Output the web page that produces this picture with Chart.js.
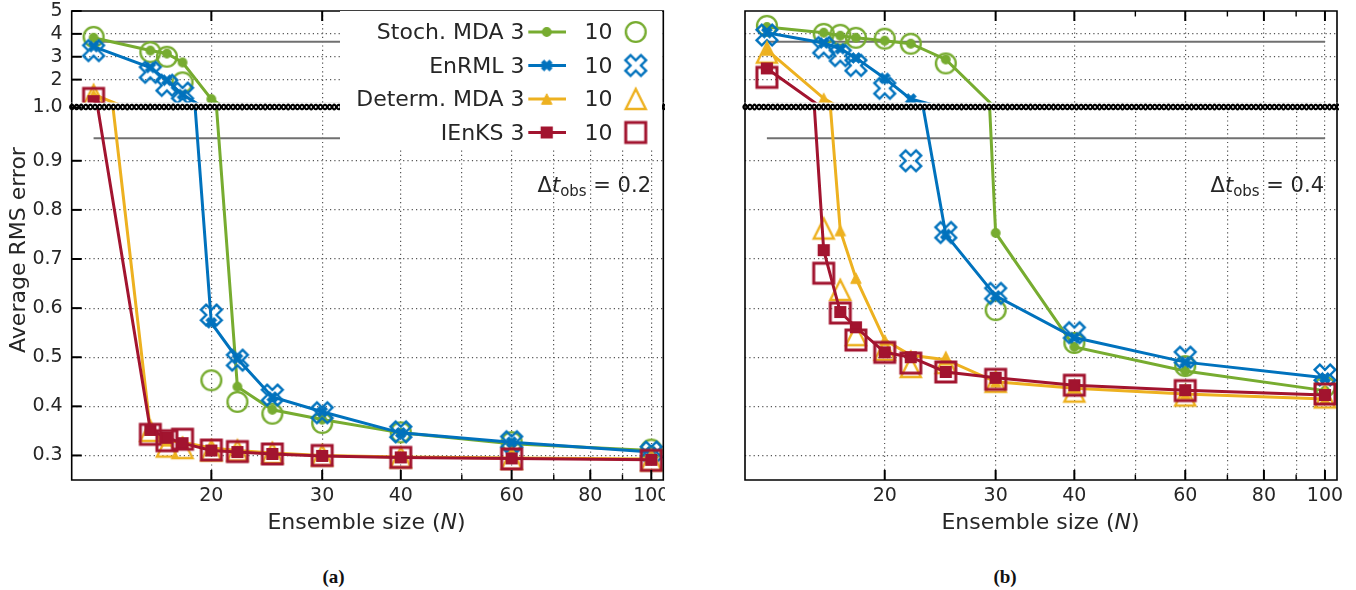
<!DOCTYPE html>
<html>
<head>
<meta charset="utf-8">
<script src="https://cdn.jsdelivr.net/npm/chart.js@4.4.1/dist/chart.umd.min.js"></script>
<style>
  html, body { margin:0; padding:0; background:#fff; }
  body { width:1356px; height:590px; position:relative; overflow:hidden; font-family:'DejaVu Sans', sans-serif; color:#262626; }
  .box { position:absolute; }
  .box canvas { display:block; }
  .txt { position:absolute; white-space:nowrap; }
  .txt sub { font-size:15px; vertical-align:-4px; line-height:0; }
</style>
</head>
<body>
<div class="box" style="left:0;top:0;width:700px;height:120px;z-index:1"><canvas id="cUa" width="700" height="120"></canvas></div>
<div class="box" style="left:0;top:80px;width:665px;height:460px;overflow:hidden;z-index:2"><canvas id="cLa" width="700" height="460"></canvas></div>
<div class="box" style="left:720px;top:0;width:640px;height:120px;z-index:1"><canvas id="cUb" width="640" height="120"></canvas></div>
<div class="box" style="left:720px;top:80px;width:640px;height:460px;z-index:2"><canvas id="cLb" width="640" height="460"></canvas></div>

<div id="legend" class="box" style="left:340px;top:11px;width:322px;height:139px;background:#fff;z-index:5">
  <canvas id="cLeg" width="322" height="139" style="position:absolute;left:0;top:0"></canvas>
</div>

<div class="txt" style="left:-107px;top:237px;width:250px;height:26px;line-height:26px;font-size:22px;text-align:center;transform:rotate(-90deg);z-index:6">Average RMS error</div>
<div class="txt" style="left:166.5px;top:509.4px;width:400px;line-height:26px;font-size:22px;text-align:center;z-index:6">Ensemble size (<i>N</i>)</div>
<div class="txt" style="left:840.5px;top:509.4px;width:400px;line-height:26px;font-size:22px;text-align:center;z-index:6">Ensemble size (<i>N</i>)</div>
<div class="txt" style="right:705px;top:172.8px;line-height:25px;font-size:21px;z-index:6">Δ<i>t</i><sub>obs</sub> = 0.2</div>
<div class="txt" style="right:32px;top:172.8px;line-height:25px;font-size:21px;z-index:6">Δ<i>t</i><sub>obs</sub> = 0.4</div>
<div class="txt" style="left:283.5px;top:565px;width:100px;line-height:23px;font-size:19px;font-weight:bold;font-family:'Liberation Serif',serif;text-align:center;color:#111">(a)</div>
<div class="txt" style="left:955px;top:565px;width:100px;line-height:23px;font-size:19px;font-weight:bold;font-family:'Liberation Serif',serif;text-align:center;color:#111">(b)</div>

<script>
// ---------------- data ----------------
const N = [13, 16, 17, 18, 20, 22, 25, 30, 40, 60, 100];
const X_TICKS = [20, 30, 40, 50, 60, 70, 80, 90, 100];
const X_LABELS = [20, 30, 40, 60, 80, 100];
const Y_UPPER_TICKS = [2, 3, 4, 5];
const Y_LOWER_TICKS = [0.3, 0.4, 0.5, 0.6, 0.7, 0.8, 0.9, 1.0];
const REF_N = [13, 100];
const REF_UPPER = [3.66, 3.66];
const REF_LOWER = [0.946, 0.946];

// panel (a): dt_obs = 0.2
const stochA_3  = [3.83, 3.27, 3.14, 2.75, 1.15, 0.440, 0.393, 0.373, 0.346, 0.324, 0.310];
const stochA_10 = [3.87, 3.20, 3.00, 1.88, 0.453, 0.409, 0.385, 0.366, 0.347, 0.327, 0.312];
const enrmlA_3  = [3.44, 2.53, 1.97, 1.35, 0.570, 0.497, 0.419, 0.389, 0.346, 0.327, 0.307];
const enrmlA_10 = [3.27, 2.32, 1.75, 1.41, 0.586, 0.494, 0.423, 0.387, 0.348, 0.328, 0.307];
const detA_3    = [1.35, 0.352, 0.330, 0.327, 0.315, 0.310, 0.305, 0.300, 0.297, 0.295, 0.293];
const detA_10   = [1.32, 0.350, 0.318, 0.315, 0.310, 0.310, 0.305, 0.300, 0.296, 0.293, 0.290];
const ienksA_3  = [1.06, 0.352, 0.336, 0.325, 0.310, 0.307, 0.303, 0.299, 0.296, 0.294, 0.291];
const ienksA_10 = [1.18, 0.343, 0.330, 0.333, 0.311, 0.308, 0.303, 0.300, 0.296, 0.293, 0.290];

// panel (b): dt_obs = 0.4
const stochB_3  = [4.30, 4.05, 3.92, 3.83, 3.70, 3.57, 2.88, 0.753, 0.521, 0.472, 0.432];
const stochB_10 = [4.35, 4.00, 3.96, 3.83, 3.79, 3.57, 2.71, 0.596, 0.529, 0.482, 0.440];
const enrmlB_3  = [4.05, 3.60, 3.35, 2.95, 2.06, 1.15, 0.750, 0.625, 0.540, 0.490, 0.458];
const enrmlB_10 = [3.95, 3.40, 3.05, 2.62, 1.62, 0.900, 0.754, 0.630, 0.550, 0.500, 0.464];
const detB_3    = [3.30, 1.18, 0.758, 0.661, 0.535, 0.504, 0.495, 0.450, 0.437, 0.425, 0.415];
const detB_10   = [3.18, 0.762, 0.637, 0.545, 0.515, 0.480, 0.488, 0.450, 0.430, 0.422, 0.418];
const ienksB_3  = [2.49, 0.718, 0.592, 0.561, 0.510, 0.500, 0.470, 0.458, 0.443, 0.433, 0.423];
const ienksB_10 = [2.10, 0.671, 0.590, 0.535, 0.510, 0.488, 0.470, 0.455, 0.443, 0.432, 0.425];

const LEGEND_LABELS = ['Stoch. MDA 3', 'EnRML 3', 'Determ. MDA 3', 'IEnKS 3'];
const LEGEND_LABELS_2 = ['10', '10', '10', '10'];

// ---------------- styles ----------------
const FONT = "'DejaVu Sans', sans-serif";
const TXT = '#262626';
const GRID_COL = '#555555';
const COL = { green:'#77AC30', blue:'#0072BD', yellow:'#EDB120', red:'#A2142F', gray:'#707070' };
const X_MIN = 12, X_MAX = 104.5;
const UPPER_MIN = 1, UPPER_MAX = 5;
const LOWER_MIN = 0.25, LOWER_MAX = 1.0085;

function cnv(size, fn) {
  const c = document.createElement('canvas');
  c.width = size; c.height = size;
  const g = c.getContext('2d');
  g.translate(size / 2, size / 2);
  fn(g);
  return c;
}
function xPath(g, s) {
  const P = [[-1,-3],[1,-3],[1,-1],[3,-1],[3,1],[1,1],[1,3],[-1,3],[-1,1],[-3,1],[-3,-1],[-1,-1]];
  const a = Math.PI / 4, c = Math.cos(a), sn = Math.sin(a);
  g.beginPath();
  P.forEach(([px, py], i) => {
    const x = (px * c - py * sn) * s / 6, y = (px * sn + py * c) * s / 6;
    if (i) g.lineTo(x, y); else g.moveTo(x, y);
  });
  g.closePath();
}
function triPath(g, s) {
  g.beginPath(); g.moveTo(0, -s / 2); g.lineTo(-s / 2, s / 2); g.lineTo(s / 2, s / 2); g.closePath();
}
const M = {
  circFill: cnv(14, g => { g.beginPath(); g.arc(0, 0, 4.3, 0, 2 * Math.PI); g.fillStyle = COL.green; g.fill(); g.lineWidth = 1.2; g.strokeStyle = COL.green; g.stroke(); }),
  circOpen: cnv(28, g => { g.beginPath(); g.arc(0, 0, 9.9, 0, 2 * Math.PI); g.lineWidth = 2.4; g.strokeStyle = COL.green; g.stroke(); }),
  xFill: cnv(18, g => { xPath(g, 11.5); g.fillStyle = COL.blue; g.fill(); g.lineWidth = 1; g.strokeStyle = COL.blue; g.stroke(); }),
  xOpen: cnv(30, g => { xPath(g, 22); g.lineWidth = 2.4; g.lineJoin = 'miter'; g.strokeStyle = COL.blue; g.stroke(); }),
  triFill: cnv(16, g => { triPath(g, 10.5); g.fillStyle = COL.yellow; g.fill(); g.lineWidth = 1; g.strokeStyle = COL.yellow; g.stroke(); }),
  triOpen: cnv(30, g => { triPath(g, 20); g.lineWidth = 2.4; g.lineJoin = 'miter'; g.strokeStyle = COL.yellow; g.stroke(); }),
  sqFill: cnv(16, g => { g.beginPath(); g.rect(-5.5, -5.5, 11, 11); g.fillStyle = COL.red; g.fill(); g.lineWidth = 1.2; g.strokeStyle = COL.red; g.stroke(); }),
  sqOpen: cnv(30, g => { g.beginPath(); g.rect(-10, -10, 20, 20); g.lineWidth = 3; g.strokeStyle = COL.red; g.stroke(); })
};

const pts = (xs, ys) => xs.map((x, i) => ({ x, y: ys[i] }));

const SERIES = {
  a: { stoch3: stochA_3, stoch10: stochA_10, enrml3: enrmlA_3, enrml10: enrmlA_10, det3: detA_3, det10: detA_10, ienks3: ienksA_3, ienks10: ienksA_10 },
  b: { stoch3: stochB_3, stoch10: stochB_10, enrml3: enrmlB_3, enrml10: enrmlB_10, det3: detB_3, det10: detB_10, ienks3: ienksB_3, ienks10: ienksB_10 }
};

function buildDatasets(S, lo, hi) {
  const inR = (c, r) => (c.raw && c.raw.y >= lo && c.raw.y <= hi) ? r : 0;
  const defs = [
    ['ienks', COL.red, M.sqFill, M.sqOpen, 0],
    ['det', COL.yellow, M.triFill, M.triOpen, 2],
    ['enrml', COL.blue, M.xFill, M.xOpen, 4],
    ['stoch', COL.green, M.circFill, M.circOpen, 6]
  ];
  const ds = [];
  defs.forEach(([k, col, mf, mo, ord]) => {
    ds.push({ data: pts(N, S[k + '10']), showLine: false, pointStyle: mo, pointRadius: c => inR(c, 11), pointBorderWidth: 0,
              borderColor: col, backgroundColor: col, order: ord, clip: 0 });
    ds.push({ data: pts(N, S[k + '3']), borderColor: col, backgroundColor: col, borderWidth: 3, pointStyle: mf,
              pointRadius: c => inR(c, 6), pointBorderWidth: 0, order: ord + 1, tension: 0, fill: false, clip: 0 });
  });
  ds.push({ data: pts(REF_N, REF_UPPER), borderColor: COL.gray, borderWidth: 2, pointRadius: 0, order: 10, clip: 0 });
  ds.push({ data: pts(REF_N, REF_LOWER), borderColor: COL.gray, borderWidth: 2, pointRadius: 0, order: 10, clip: 0 });
  return ds;
}

function framePlugin(cfg) {
  return {
    id: 'frame',
    afterDatasetsDraw(chart) {
      const { ctx, chartArea: a, scales } = chart;
      ctx.save();
      ctx.setLineDash([]);
      ctx.strokeStyle = '#000';
      ctx.lineWidth = 1.6;
      ctx.beginPath();
      if (cfg.upper) {
        ctx.moveTo(a.left, a.bottom); ctx.lineTo(a.left, a.top); ctx.lineTo(a.right, a.top); ctx.lineTo(a.right, a.bottom);
      } else {
        const t = a.top - cfg.gap;
        ctx.moveTo(a.left, t); ctx.lineTo(a.left, a.bottom); ctx.lineTo(a.right, a.bottom); ctx.lineTo(a.right, t);
      }
      ctx.stroke();
      X_TICKS.forEach(v => {
        const px = scales.x.getPixelForValue(v);
        const major = X_LABELS.includes(v);
        const len = major ? 10 : 5.5;
        ctx.lineWidth = major ? 2 : 1.4;
        ctx.beginPath();
        if (cfg.upper) { ctx.moveTo(px, a.top); ctx.lineTo(px, a.top + len); }
        else { ctx.moveTo(px, a.bottom); ctx.lineTo(px, a.bottom - len); }
        ctx.stroke();
      });
      if (cfg.yTicks) {
        ctx.lineWidth = 2;
        scales.y.ticks.forEach(t => {
          const py = scales.y.getPixelForValue(t.value);
          ctx.beginPath(); ctx.moveTo(a.left, py); ctx.lineTo(a.left + 10, py); ctx.stroke();
        });
      }
      ctx.restore();
    },
    afterDraw(chart) {
      if (!cfg.zigzag) return;
      const { ctx, chartArea: a } = chart;
      const yc = cfg.zigY;
      ctx.save();
      ctx.strokeStyle = '#000';
      ctx.lineWidth = 2.1;
      const x0 = a.left - 2, x1 = a.right + 2;
      [0, Math.PI].forEach(ph => {
        ctx.beginPath();
        for (let x = x0; x <= x1; x += 0.5) {
          const y = yc + 2.3 * Math.sin((x - x0) / 9.2 * 2 * Math.PI + ph);
          if (x === x0) ctx.moveTo(x, y); else ctx.lineTo(x, y);
        }
        ctx.stroke();
      });
      ctx.restore();
    }
  };
}

const PANELS = {
  a: { left: 71.7, right: 663.3, canvasLeft: 0, labels: true },
  b: { left: 745, right: 1337, canvasLeft: 720, labels: false }
};

function makeChart(id, panel, upper) {
  const P = PANELS[panel];
  const cv = document.getElementById(id);
  const W = cv.width, H = cv.height;
  const top0 = upper ? 0 : 80;
  const aTop = upper ? 10 : 107.5, aBot = upper ? 102.5 : 480;
  const yW = P.labels ? P.left - P.canvasLeft : 0;
  const xH = upper ? 0 : 50;
  const padding = {
    left: P.labels ? 0 : P.left - P.canvasLeft,
    right: P.canvasLeft + W - P.right,
    top: aTop - top0,
    bottom: top0 + H - aBot - xH
  };
  const yMin = upper ? UPPER_MIN : LOWER_MIN, yMax = upper ? UPPER_MAX : LOWER_MAX;
  const yTicks = upper ? Y_UPPER_TICKS.slice() : Y_LOWER_TICKS.map(v => (v >= 1 ? LOWER_MAX : v));
  const transparent = 'rgba(0,0,0,0)';
  const zero = s => { s.paddingLeft = 0; s.paddingRight = 0; s.paddingTop = 0; s.paddingBottom = 0; };
  return new Chart(cv, {
    type: 'line',
    data: { datasets: buildDatasets(SERIES[panel], yMin, yMax) },
    options: {
      responsive: false,
      animation: false,
      events: [],
      layout: { padding },
      plugins: { legend: { display: false }, tooltip: { enabled: false } },
      scales: {
        x: {
          type: 'logarithmic', min: X_MIN, max: X_MAX, position: 'bottom',
          afterBuildTicks: s => { s.ticks = X_TICKS.map(v => ({ value: v })); },
          afterFit: s => { s.height = xH; zero(s); },
          grid: {
            drawTicks: false, lineWidth: 1.2,
            color: c => (upper && c.tick && !X_LABELS.includes(c.tick.value)) ? transparent : GRID_COL
          },
          border: { display: false, dash: [1.2, 3.1] },
          ticks: {
            display: !upper, autoSkip: false, maxRotation: 0, minRotation: 0, padding: 5,
            color: TXT, font: { family: FONT, size: 19 },
            callback: v => (X_LABELS.includes(v) ? String(v) : '')
          }
        },
        y: {
          type: 'linear', min: yMin, max: yMax, position: 'left',
          afterBuildTicks: s => { s.ticks = yTicks.map(v => ({ value: v })); },
          afterFit: s => { s.width = yW; zero(s); },
          grid: {
            drawTicks: false, lineWidth: 1.2,
            color: c => (c.tick && c.tick.value >= yMax - 1e-9) ? transparent : GRID_COL
          },
          border: { display: false, dash: [1.2, 3.1] },
          ticks: {
            display: P.labels, padding: 9, color: TXT, font: { family: FONT, size: 19 },
            callback: v => (upper ? String(v) : (v >= 1 ? '1.0' : v.toFixed(1)))
          }
        }
      }
    },
    plugins: [framePlugin({ upper, gap: 5, yTicks: P.labels, zigzag: !upper, zigY: 107 - top0 })]
  });
}

makeChart('cUa', 'a', true);
makeChart('cLa', 'a', false);
makeChart('cUb', 'b', true);
makeChart('cLb', 'b', false);

// ---------------- legend ----------------
(function legend() {
  const box = document.getElementById('legend');
  const g = document.getElementById('cLeg').getContext('2d');
  const cols = [COL.green, COL.blue, COL.yellow, COL.red];
  const fills = [M.circFill, M.xFill, M.triFill, M.sqFill];
  const opens = [M.circOpen, M.xOpen, M.triOpen, M.sqOpen];
  const ox = 340, oy = 11;
  LEGEND_LABELS.forEach((lab, i) => {
    const cy = 32 + i * 33.5;
    g.strokeStyle = cols[i]; g.lineWidth = 3;
    g.beginPath(); g.moveTo(528.3 - ox, cy - oy); g.lineTo(566 - ox, cy - oy); g.stroke();
    g.drawImage(fills[i], 546.7 - ox - fills[i].width / 2, cy - oy - fills[i].height / 2);
    g.drawImage(opens[i], 635.7 - ox - opens[i].width / 2, cy - oy - opens[i].height / 2);
    const t1 = document.createElement('div');
    t1.className = 'txt';
    t1.style.cssText = `right:${322 - 184.5}px;top:${cy - oy - 12.6}px;line-height:26px;font-size:22px;`;
    t1.textContent = lab;
    box.appendChild(t1);
    const t2 = document.createElement('div');
    t2.className = 'txt';
    t2.style.cssText = `left:${584.6 - ox}px;top:${cy - oy - 12.6}px;line-height:26px;font-size:22px;`;
    t2.textContent = LEGEND_LABELS_2[i];
    box.appendChild(t2);
  });
})();
</script>
</body>
</html>
